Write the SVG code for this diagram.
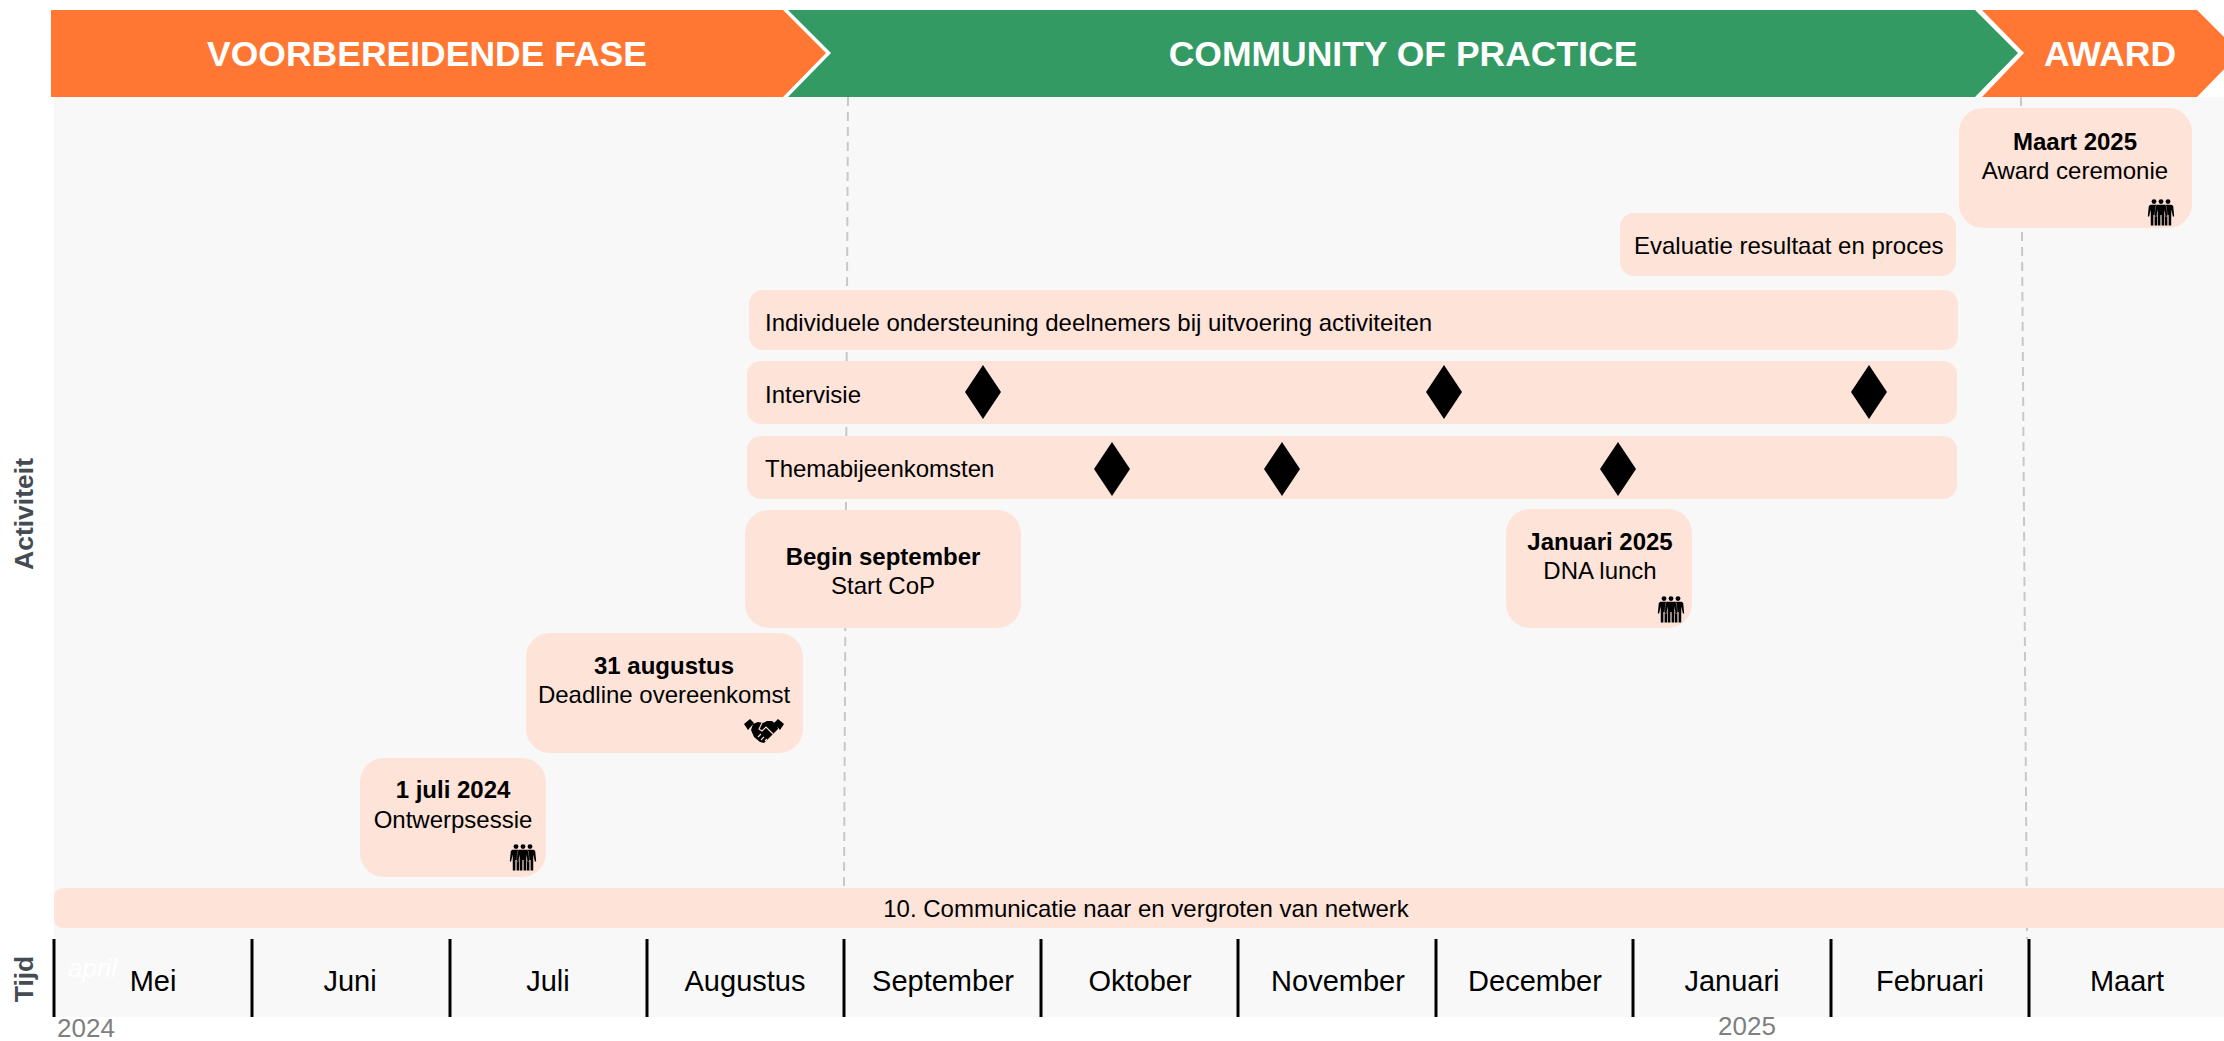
<svg xmlns="http://www.w3.org/2000/svg" width="2224" height="1041" viewBox="0 0 2224 1041">
<style>
text{font-family:"Liberation Sans",Arial,sans-serif;fill:#000}
.h{font-size:35.5px;font-weight:700;fill:#fff;text-anchor:middle}
.t{font-size:24px}
.c{text-anchor:middle}
.b{font-weight:700}
.m{font-size:29px;text-anchor:middle}
.box{fill:#fee3d9}
.side{font-size:26.5px;font-weight:700;fill:#444b52;text-anchor:middle}
.yr{font-size:26px;fill:#7f7f7f}
.div{stroke:#000;stroke-width:3}
.dash{stroke:#c8c8c8;stroke-width:2;stroke-dasharray:9 6;fill:none}
.cut{stroke:#fee3d9;stroke-width:1.1;fill:none}
</style>
<defs>
<g id="person"><circle cx="0" cy="-10.4" r="2.4"/><path d="M-3.6-7.2H3.6L5.2-6 6.2 4.5H4.9L3.3-2.5 3.2 13.5H.6V3H-.6V13.5H-3.2L-3.3-2.5-4.9 4.5H-6.2L-5.2-6Z" stroke="#fee3d9" stroke-width=".6" paint-order="stroke"/></g>
<g id="people"><use href="#person" x="-7"/><use href="#person" x="7"/><use href="#person" x="0"/></g>
<g id="hands"><path d="M-20-7-14-12-10-8-16-1Z"/><path d="M20-7 14-12 10-8 16-1Z"/><path d="M-11-7-6-9-1-8 3-10H8L13-6 14-2 5 7 0 12-4 11-10 6-13-1Z"/><path class="cut" d="M-2-8-5-2-2 0 2-4 9 3M-6 6-3 3M-3 9 0 6M1 10 3 8"/></g>
<path id="dm" d="M0-27 18 0 0 27-18 0Z"/>
</defs>
<rect x="0" y="0" width="2224" height="1041" fill="#fff"/>
<rect x="54" y="97" width="2170" height="920" fill="#f8f8f8"/>
<g id="connectors">
<path class="dash" d="M848 97 844 888"/>
<path class="dash" d="M2021 97 2027 939"/>
</g>
<g id="phase-voorbereidend"><path d="M51 10H783L826 53 783 97H51Z" fill="#ff7733"/><text class="h" x="427" y="66">VOORBEREIDENDE FASE</text></g>
<g id="phase-cop"><path d="M788 10H1975L2018 53 1975 97H788L831 53Z" fill="#339a63"/><text class="h" x="1403" y="66">COMMUNITY OF PRACTICE</text></g>
<g id="phase-award"><path d="M1982 10H2197L2240 53 2197 97H1982L2024 53Z" fill="#ff7733"/><text class="h" x="2110" y="66">AWARD</text></g>
<g id="node-maart"><rect class="box" x="1959" y="108" width="233" height="120" rx="24"/><text class="t c b" x="2075" y="150">Maart 2025</text><text class="t c" x="2075" y="179">Award ceremonie</text><use href="#people" x="2161" y="212"/></g>
<g id="node-evaluatie"><rect class="box" x="1620" y="213" width="336" height="63" rx="14"/><text class="t" x="1634" y="254">Evaluatie resultaat en proces</text></g>
<g id="node-individueel"><rect class="box" x="749" y="290" width="1209" height="60" rx="14"/><text class="t" x="765" y="331">Individuele ondersteuning deelnemers bij uitvoering activiteiten</text></g>
<g id="node-intervisie"><rect class="box" x="747" y="361" width="1210" height="63" rx="14"/><text class="t" x="765" y="403">Intervisie</text><use href="#dm" x="983" y="392"/><use href="#dm" x="1444" y="392"/><use href="#dm" x="1869" y="392"/></g>
<g id="node-thema"><rect class="box" x="747" y="436" width="1210" height="63" rx="14"/><text class="t" x="765" y="477">Themabijeenkomsten</text><use href="#dm" x="1112" y="469"/><use href="#dm" x="1282" y="469"/><use href="#dm" x="1618" y="469"/></g>
<g id="node-start"><rect class="box" x="745" y="510" width="276" height="118" rx="24"/><text class="t c b" x="883" y="565">Begin september</text><text class="t c" x="883" y="594">Start CoP</text></g>
<g id="node-januari"><rect class="box" x="1506" y="509" width="186" height="119" rx="24"/><text class="t c b" x="1600" y="550">Januari 2025</text><text class="t c" x="1600" y="579">DNA lunch</text><use href="#people" x="1671" y="609"/></g>
<g id="node-deadline"><rect class="box" x="526" y="633" width="277" height="120" rx="24"/><text class="t c b" x="664" y="674">31 augustus</text><text class="t c" x="664" y="703">Deadline overeenkomst</text><use href="#hands" x="764" y="731"/></g>
<g id="node-ontwerp"><rect class="box" x="360" y="758" width="186" height="119" rx="24"/><text class="t c b" x="453" y="798">1 juli 2024</text><text class="t c" x="453" y="828">Ontwerpsessie</text><use href="#people" x="523" y="857"/></g>
<g id="node-communicatie"><path class="box" d="M64 888H2224V928H64Q54 928 54 918V898Q54 888 64 888Z"/><text class="t c" x="1146" y="917">10. Communicatie naar en vergroten van netwerk</text></g>
<g id="timeline">
<path class="div" d="M54 939V1017M252 939V1017M450 939V1017M647 939V1017M844 939V1017M1041 939V1017M1238 939V1017M1436 939V1017M1633 939V1017M1831 939V1017M2029 939V1017"/>
<text x="68" y="977" font-size="26" font-style="italic" style="fill:#fff">april</text>
<text class="m" x="153" y="991">Mei</text><text class="m" x="350" y="991">Juni</text><text class="m" x="548" y="991">Juli</text><text class="m" x="745" y="991">Augustus</text><text class="m" x="943" y="991">September</text><text class="m" x="1140" y="991">Oktober</text><text class="m" x="1338" y="991">November</text><text class="m" x="1535" y="991">December</text><text class="m" x="1732" y="991">Januari</text><text class="m" x="1930" y="991">Februari</text><text class="m" x="2127" y="991">Maart</text>
<text class="yr" x="57" y="1037">2024</text><text class="yr" x="1718" y="1035">2025</text>
</g>
<text class="side" transform="translate(33 514) rotate(-90)">Activiteit</text>
<text class="side" transform="translate(33 979) rotate(-90)">Tijd</text>
</svg>
